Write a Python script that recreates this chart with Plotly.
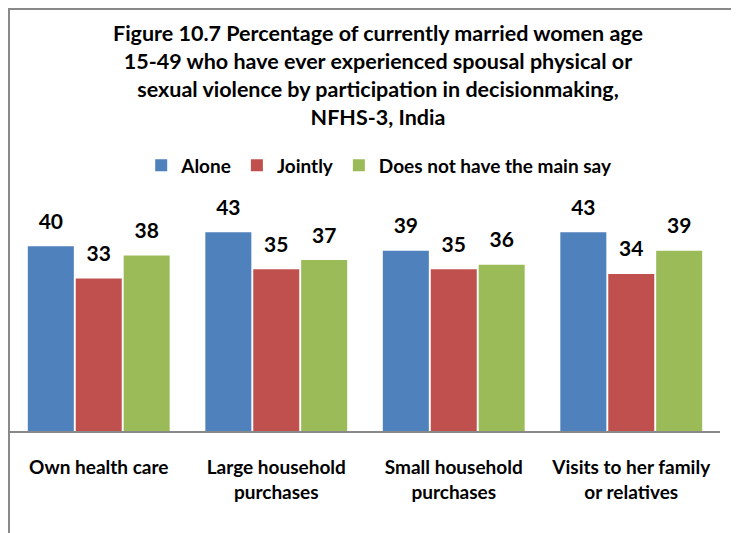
import plotly.graph_objects as go

categories = ["Own health care", "Large household<br>purchases", "Small household<br>purchases", "Visits to her family<br>or relatives"]
series_names = ["Alone", "Jointly", "Does not have the main say"]
alone = [40, 43, 39, 43]
jointly = [33, 35, 35, 34]
no_main_say = [38, 37, 36, 39]
colors = ["#4F81BD", "#C0504D", "#9BBB59"]
title_text = ("Figure 10.7 Percentage of currently married women age<br>"
              "15-49 who have ever experienced spousal physical or<br>"
              "sexual violence by participation in decisionmaking,<br>"
              "NFHS-3, India")

FONT = "Lato"
fig = go.Figure()
values = [alone, jointly, no_main_say]
for i, (name, vals) in enumerate(zip(series_names, values)):
    fig.add_trace(go.Bar(x=categories, y=vals, name=name, marker_color=colors[i],
                         offsetgroup=str(i), marker_line_width=0))
for i, (name, vals) in enumerate(zip(series_names, values)):
    fig.add_trace(go.Scatter(x=categories, y=vals, mode="markers+text", text=[str(v) for v in vals],
                             textposition="top center", offsetgroup=str(i),
                             marker=dict(size=18, opacity=0), showlegend=False,
                             textfont=dict(family=FONT, size=21, color="#000000", weight="bold"),
                             hoverinfo="skip", cliponaxis=False))

fig.update_layout(
    width=739, height=533,
    margin=dict(l=2, r=27, t=192, b=110),
    paper_bgcolor="white", plot_bgcolor="white",
    barmode="group", scattermode="group", bargap=0.19, bargroupgap=0.04,
    legend=dict(orientation="h", x=0.52, xanchor="center", y=1.15, yanchor="middle",
                font=dict(family=FONT, size=19, color="#000000", weight="bold"),
                itemsizing="constant", traceorder="normal"),
    showlegend=True,
    font=dict(family=FONT, color="#000000"),
)
fig.add_annotation(text=title_text, xref="paper", yref="paper", x=0.518, y=1.79,
                   xanchor="center", yanchor="top", showarrow=False, align="center",
                   font=dict(family=FONT, size=21.5, color="#000000", weight="bold"))
fig.update_xaxes(showline=True, linecolor="#898989", linewidth=2, ticks="", showgrid=False,
                 tickfont=dict(family=FONT, size=19, color="#000000", weight="bold"), ticklabelstandoff=18)
fig.update_yaxes(range=[0, 50], visible=False, showgrid=False)
fig.add_shape(type="rect", xref="paper", yref="paper", x0=-0.0014, x1=1.2, y0=-0.6, y1=1.827,
              line=dict(color="#898989", width=2), layer="below")
fig.write_html("out.html")
